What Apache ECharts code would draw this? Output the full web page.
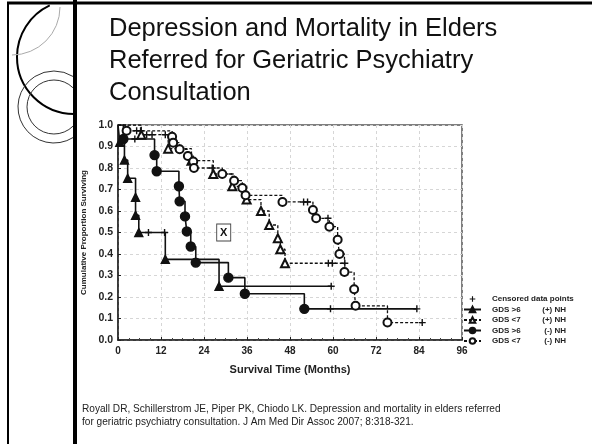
<!DOCTYPE html>
<html>
<head>
<meta charset="utf-8">
<script src="https://cdn.jsdelivr.net/npm/echarts@6/dist/echarts.min.js"></script>
<style>
  html, body { margin: 0; padding: 0; background: #fff; }
  #chart { width: 592px; height: 444px; }
</style>
</head>
<body>
<div id="chart"></div>
<script>
// Kaplan-Meier survival, months vs. cumulative proportion surviving
var xTicks = [0, 12, 24, 36, 48, 60, 72, 84, 96];

var seriesNames = ['GDS >6 (+) NH', 'GDS <7 (+) NH', 'GDS >6 (-) NH', 'GDS <7 (-) NH'];
var gdsLabels = ['GDS >6', 'GDS <7', 'GDS >6', 'GDS <7'];
var nhLabels = ['(+) NH', '(+) NH', '(-) NH', '(-) NH'];

// events: [month, survival after event]
var gdsHiNhPos = [[0.5, 0.92], [1.8, 0.837], [2.7, 0.752], [4.9, 0.664], [4.9, 0.58], [5.8, 0.50],
  [13.2, 0.375], [28.2, 0.25]];
var gdsLoNhPos = [[6.5, 0.955], [14, 0.89], [20.5, 0.834], [26.6, 0.772], [31.9, 0.715], [35.9, 0.653],
  [39.9, 0.60], [42.2, 0.535], [44.6, 0.473], [45.3, 0.422], [46.6, 0.357]];
var gdsHiNhNeg = [[1.5, 0.935], [10.2, 0.86], [10.8, 0.785], [17, 0.715], [17.2, 0.645], [18.7, 0.575],
  [19.2, 0.505], [20.3, 0.435], [21.7, 0.36], [30.8, 0.29], [35.4, 0.215], [52, 0.145]];
var gdsLoNhNeg = [[2.4, 0.973], [15.1, 0.945], [15.4, 0.918], [17.2, 0.887], [19.5, 0.856], [21, 0.83],
  [21.2, 0.80], [29.1, 0.772], [32.4, 0.741], [34.7, 0.707], [35.6, 0.673], [45.9, 0.642], [54.4, 0.605],
  [55.3, 0.566], [59, 0.527], [61.3, 0.466], [61.8, 0.40], [63.2, 0.316], [65.9, 0.236], [66.3, 0.159],
  [75.2, 0.081]];

// last follow-up month of each group
var lastFollowUp = [59.5, 63.3, 83.4, 84.9];

// censored observations
var censHiNhPos = [[8.5, 0.50], [13.0, 0.50], [59.5, 0.25]];
var censLoNhPos = [[8.0, 0.955], [9.5, 0.955], [13.2, 0.955], [58.7, 0.357], [59.8, 0.357], [63.3, 0.357]];
var censHiNhNeg = [[4.7, 0.935], [59.3, 0.145], [83.4, 0.145]];
var censLoNhNeg = [[5.2, 0.973], [6.3, 0.973], [26.3, 0.80], [51.8, 0.642], [52.9, 0.642], [58.6, 0.566], [84.9, 0.081]];

var boxMark = [29.5, 0.5];

var FONT = 'Liberation Sans, Arial, sans-serif';
var plusPath = 'path://M4,0h2v4h4v2h-4v4h-2v-4h-4v-2h4z';

function kmData(events, last) {
    var d = [{ value: [0, 1], symbol: 'none' }];
    events.forEach(function (e) { d.push(e); });
    d.push({ value: [last, events[events.length - 1][1]], symbol: 'none' });
    return d;
}

var groups = [
    { ev: gdsHiNhPos, sym: 'triangle', size: 8, dash: 'solid' },
    { ev: gdsLoNhPos, sym: 'emptyTriangle', size: 8, dash: [3, 2] },
    { ev: gdsHiNhNeg, sym: 'circle', size: 9, dash: 'solid' },
    { ev: gdsLoNhNeg, sym: 'emptyCircle', size: 8, dash: [3, 2] }
];

var series = [{
    name: 'Censored data points',
    type: 'line',
    data: censHiNhPos.concat(censLoNhPos, censHiNhNeg, censLoNhNeg),
    symbol: plusPath,
    symbolSize: 7,
    lineStyle: { width: 0, opacity: 0 },
    itemStyle: { color: '#111' },
    z: 4
}];
groups.forEach(function (g, i) {
    var s = {
        name: seriesNames[i],
        type: 'line',
        step: 'end',
        data: kmData(g.ev, lastFollowUp[i]),
        symbol: g.sym,
        symbolSize: g.size,
        showAllSymbol: true,
        lineStyle: { color: '#111', width: g.dash === 'solid' ? 1.6 : 1.3, type: g.dash },
        itemStyle: { color: '#111', borderColor: '#111', borderWidth: 1.4 },
        z: 3
    };
    if (i === 0) {
        s.markPoint = {
            symbol: 'rect',
            symbolSize: [14, 17],
            data: [{ coord: boxMark }],
            itemStyle: { color: '#fff', borderColor: '#444', borderWidth: 1 },
            label: { show: true, position: 'inside', formatter: 'X', color: '#111',
                fontFamily: FONT, fontWeight: 'bold', fontSize: 11 }
        };
    }
    series.push(s);
});

var myChart = echarts.init(document.getElementById('chart'));
var option = {
    backgroundColor: '#fff',
    animation: false,
    title: [{
        text: 'Depression and Mortality in Elders\nReferred for Geriatric Psychiatry\nConsultation',
        left: 104,
        top: 8,
        textStyle: { fontFamily: FONT, fontSize: 25.5, fontWeight: 'normal', color: '#111', lineHeight: 32 }
    }, {
        text: 'Royall DR, Schillerstrom JE, Piper PK, Chiodo LK. Depression and mortality in elders referred\nfor geriatric psychiatry consultation. J Am Med Dir Assoc 2007; 8:318-321.',
        left: 77,
        top: 398,
        textStyle: { fontFamily: FONT, fontSize: 10.1, fontWeight: 'normal', color: '#222', lineHeight: 13 }
    }],
    graphic: [
        { type: 'line', shape: { x1: 7, y1: 3, x2: 592, y2: 3 }, style: { stroke: '#000', lineWidth: 3 } },
        { type: 'line', shape: { x1: 8, y1: 3, x2: 8, y2: 444 }, style: { stroke: '#000', lineWidth: 2 } },
        { type: 'line', shape: { x1: 75, y1: 0, x2: 75, y2: 444 }, style: { stroke: '#000', lineWidth: 4 } },
        { type: 'arc', shape: { cx: 74, cy: 57, r: 57, startAngle: Math.PI / 2, endAngle: Math.PI * 1.36, clockwise: true },
          style: { stroke: '#000', lineWidth: 2, fill: null } },
        { type: 'arc', shape: { cx: 12, cy: 7, r: 48, startAngle: 0, endAngle: Math.PI / 2, clockwise: true },
          style: { stroke: '#aaa', lineWidth: 1, fill: null } },
        { type: 'arc', shape: { cx: 54, cy: 107, r: 36, startAngle: 1.01, endAngle: 5.27, clockwise: true },
          style: { stroke: '#333', lineWidth: 1, fill: null } },
        { type: 'arc', shape: { cx: 54, cy: 107, r: 27, startAngle: 0.79, endAngle: 5.49, clockwise: true },
          style: { stroke: '#333', lineWidth: 1, fill: null } }
    ],
    legend: {
        orient: 'vertical',
        left: 458,
        top: 290,
        itemGap: 2.5,
        itemWidth: 17,
        itemHeight: 7,
        data: ['Censored data points'].concat(seriesNames),
        formatter: function (name) {
            var i = seriesNames.indexOf(name);
            if (i < 0) return '{a|' + name + '}';
            return '{a|' + gdsLabels[i] + '}{b|' + nhLabels[i] + '}';
        },
        textStyle: {
            fontFamily: FONT, fontSize: 8, fontWeight: 'bold', color: '#222',
            rich: {
                a: { fontFamily: FONT, fontSize: 8, fontWeight: 'bold', color: '#222', width: 50, padding: [0, 0, 0, 6] },
                b: { fontFamily: FONT, fontSize: 8, fontWeight: 'bold', color: '#222', width: 24, align: 'right' }
            }
        }
    },
    grid: {
        left: 118, right: 130, top: 125, bottom: 104,
        show: true, borderColor: '#555', borderWidth: 1.5
    },
    xAxis: {
        type: 'value',
        min: 0, max: 96, interval: 12,
        name: 'Survival Time (Months)',
        nameLocation: 'middle',
        nameGap: 24,
        nameTextStyle: { fontFamily: FONT, fontSize: 11, fontWeight: 'bold', color: '#222' },
        axisLine: { lineStyle: { color: '#222', width: 1.5 } },
        axisTick: { show: true, inside: true, length: 3, lineStyle: { color: '#222' } },
        minorTick: { show: true, splitNumber: 4, length: 2, lineStyle: { color: '#444' } },
        axisLabel: {
            margin: 6, fontFamily: FONT, fontSize: 10, fontWeight: 'bold', color: '#222',
            formatter: function (v) { return xTicks.indexOf(v) >= 0 ? String(v) : ''; }
        },
        splitLine: { show: true, lineStyle: { color: '#d6d6d6', type: [3, 3], width: 1 } }
    },
    yAxis: {
        type: 'value',
        min: 0, max: 1, interval: 0.1,
        name: 'Cumulative Proportion Surviving',
        nameLocation: 'middle',
        nameGap: 25,
        nameTextStyle: { fontFamily: FONT, fontSize: 8, fontWeight: 'bold', color: '#222' },
        axisLine: { show: true, lineStyle: { color: '#222', width: 1.5 } },
        axisTick: { show: true, inside: true, length: 3, lineStyle: { color: '#222' } },
        axisLabel: {
            margin: 5, fontFamily: FONT, fontSize: 10.5, fontWeight: 'bold', color: '#222',
            formatter: function (v) { return v.toFixed(1); }
        },
        splitLine: { show: true, lineStyle: { color: '#d6d6d6', type: [3, 3], width: 1 } }
    },
    series: series
};
myChart.setOption(option);
</script>
</body>
</html>
